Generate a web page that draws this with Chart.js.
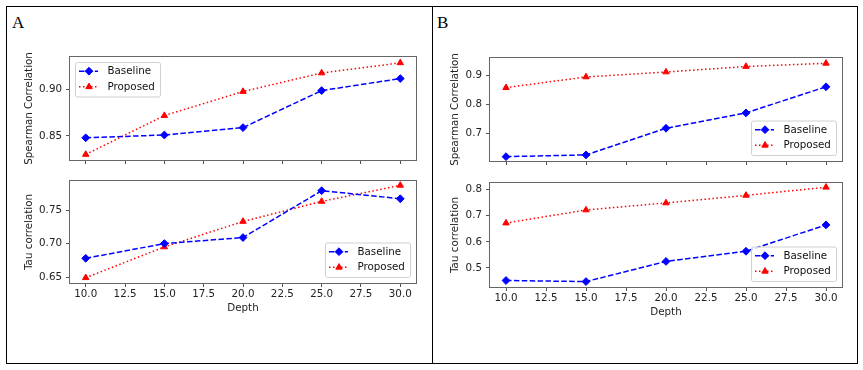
<!DOCTYPE html>
<html><head><meta charset="utf-8">
<script src="https://cdn.jsdelivr.net/npm/chart.js@4/dist/chart.umd.min.js"></script>
<style>
html,body{margin:0;padding:0;background:#fff;width:863px;height:370px;overflow:hidden;position:relative}
.box{position:absolute;border:1px solid #000;box-sizing:border-box}
.lbl{position:absolute;font-family:"Liberation Serif","Times New Roman",serif;font-size:17px;line-height:17px;color:#000}
canvas{position:absolute}
</style></head><body>
<div class="box" style="left:6px;top:6px;width:852px;height:358px"></div>
<div style="position:absolute;left:432px;top:6px;width:1px;height:358px;background:#000"></div>
<div class="lbl" style="left:12px;top:14px">A</div>
<div class="lbl" style="left:437px;top:14px">B</div>
<script>
// ---- data ----
const depth = [10, 15, 20, 25, 30];
const depthTicks = [10, 12.5, 15, 17.5, 20, 22.5, 25, 27.5, 30];
const seriesNames = ['Baseline', 'Proposed'];

const aSpearBaseline = [0.848, 0.851, 0.859, 0.899, 0.912];
const aSpearProposed = [0.830, 0.872, 0.898, 0.918, 0.929];
const aTauBaseline   = [0.678, 0.700, 0.709, 0.779, 0.767];
const aTauProposed   = [0.649, 0.695, 0.733, 0.763, 0.787];

const bSpearBaseline = [0.619, 0.625, 0.717, 0.770, 0.860];
const bSpearProposed = [0.857, 0.894, 0.911, 0.930, 0.941];
const bTauBaseline   = [0.452, 0.448, 0.525, 0.564, 0.665];
const bTauProposed   = [0.672, 0.722, 0.749, 0.778, 0.809];

const aSpearTicks = [0.85, 0.90];
const aTauTicks   = [0.65, 0.70, 0.75];
const bSpearTicks = [0.7, 0.8, 0.9];
const bTauTicks   = [0.5, 0.6, 0.7, 0.8];

// ---- styling ----
const FS = 10.3;
Chart.defaults.font.family = "'DejaVu Sans', sans-serif";
Chart.defaults.font.size = FS;
Chart.defaults.color = '#222';

const FONT = {family: "'DejaVu Sans', sans-serif", size: FS};

function drawMarker(ctx, style, r, x, y) {
  if (Chart.helpers && Chart.helpers.drawPoint) {
    Chart.helpers.drawPoint(ctx, {pointStyle: style, radius: r, borderWidth: 1, rotation: 0}, x, y);
    return;
  }
  ctx.beginPath();
  if (style === 'triangle') {
    ctx.moveTo(x, y - r); ctx.lineTo(x + r * 0.866, y + r / 2); ctx.lineTo(x - r * 0.866, y + r / 2);
  } else {
    ctx.moveTo(x - r, y); ctx.lineTo(x, y - r); ctx.lineTo(x + r, y); ctx.lineTo(x, y + r);
  }
  ctx.closePath(); ctx.fill(); ctx.stroke();
}

const mplPlugin = {
  id: 'mpl',
  afterDraw(chart, args, opts) {
    const ca = chart.chartArea, ctx = chart.ctx;
    ctx.save();
    // axes frame
    ctx.strokeStyle = '#666';
    ctx.lineWidth = 1;
    ctx.setLineDash([]);
    ctx.strokeRect(ca.left - 0.5, ca.top - 0.5, ca.right - ca.left + 1, ca.bottom - ca.top + 1);
    // legend
    const W = 85, H = 34.5, inset = 5.5;
    const x0 = opts.corner === 'ul' ? ca.left + inset : ca.right - inset - W;
    const y0 = opts.corner === 'ul' ? ca.top + inset : ca.bottom - inset - H;
    const rr = 2;
    ctx.beginPath();
    ctx.moveTo(x0 + rr, y0);
    ctx.lineTo(x0 + W - rr, y0); ctx.quadraticCurveTo(x0 + W, y0, x0 + W, y0 + rr);
    ctx.lineTo(x0 + W, y0 + H - rr); ctx.quadraticCurveTo(x0 + W, y0 + H, x0 + W - rr, y0 + H);
    ctx.lineTo(x0 + rr, y0 + H); ctx.quadraticCurveTo(x0, y0 + H, x0, y0 + H - rr);
    ctx.lineTo(x0, y0 + rr); ctx.quadraticCurveTo(x0, y0, x0 + rr, y0);
    ctx.closePath();
    ctx.fillStyle = 'rgba(255,255,255,0.8)';
    ctx.fill();
    ctx.strokeStyle = '#d0d0d0';
    ctx.stroke();
    chart.data.datasets.forEach((ds, i) => {
      const cy = y0 + 8.7 + i * 15.6;
      ctx.strokeStyle = ds.borderColor;
      ctx.fillStyle = ds.backgroundColor;
      ctx.lineWidth = ds.borderWidth;
      ctx.setLineDash(ds.borderDash);
      ctx.beginPath();
      ctx.moveTo(x0 + 3.5, cy); ctx.lineTo(x0 + 22.5, cy);
      ctx.stroke();
      ctx.setLineDash([]);
      ctx.lineWidth = 1;
      drawMarker(ctx, ds.pointStyle, ds.pointRadius, x0 + 13.5, cy);
      ctx.fillStyle = '#111';
      ctx.font = FS + "px 'DejaVu Sans', sans-serif";
      ctx.textBaseline = 'middle';
      ctx.textAlign = 'left';
      ctx.fillText(ds.label, x0 + 32, cy + 0.5);
    });
    ctx.restore();
  }
};

function makeDatasets(base, prop) {
  return [
    {label: seriesNames[0], data: depth.map((d, i) => ({x: d, y: base[i]})),
     borderColor: '#0000ff', backgroundColor: '#0000ff', borderWidth: 1.5, borderDash: [5.5, 2.4],
     pointStyle: 'rectRot', pointRadius: 3.9, pointBorderWidth: 1, pointHoverRadius: 3.9, tension: 0, fill: false},
    {label: seriesNames[1], data: depth.map((d, i) => ({x: d, y: prop[i]})),
     borderColor: '#ff0000', backgroundColor: '#ff0000', borderWidth: 1.5, borderDash: [1.5, 2.5],
     pointStyle: 'triangle', pointRadius: 3.7, pointBorderWidth: 1, pointHoverRadius: 3.7, tension: 0, fill: false}
  ];
}

function makeChart(cfg) {
  const YW = 60, TP = 8, RP = 8, XH = cfg.showX ? 40 : 12;
  const w = YW + (cfg.R - cfg.L) + RP, h = TP + (cfg.B - cfg.T) + XH;
  const c = document.createElement('canvas');
  c.width = w; c.height = h;
  c.style.left = (cfg.L - YW) + 'px';
  c.style.top = (cfg.T - TP) + 'px';
  c.style.width = w + 'px'; c.style.height = h + 'px';
  document.body.appendChild(c);
  const tickGrid = {drawOnChartArea: false, drawTicks: true, tickLength: 4, tickColor: '#555', tickWidth: 1, color: '#555'};
  new Chart(c, {
    type: 'line',
    data: {datasets: makeDatasets(cfg.base, cfg.prop)},
    options: {
      responsive: false, animation: false, devicePixelRatio: 1,
      layout: {padding: {left: 0, top: TP, right: RP, bottom: 0}},
      plugins: {legend: {display: false}, tooltip: {enabled: false}, mpl: {corner: cfg.corner}},
      scales: {
        x: {
          type: 'linear', min: 9, max: 31,
          afterBuildTicks: s => { s.ticks = depthTicks.map(v => ({value: v})); },
          afterFit: s => { s.height = XH; s.paddingLeft = 0; s.paddingRight = 0; },
          grid: tickGrid, border: {display: false},
          ticks: {display: cfg.showX, padding: 1, color: '#222', font: FONT, autoSkip: false, maxRotation: 0,
                  callback: v => Number(v).toFixed(1)},
          title: {display: cfg.showX, text: 'Depth', color: '#222', font: FONT, padding: {top: 0, bottom: 8}}
        },
        y: {
          type: 'linear', min: cfg.ymin, max: cfg.ymax,
          afterBuildTicks: s => { s.ticks = cfg.yTicks.map(v => ({value: v})); },
          afterFit: s => { s.width = YW; s.paddingTop = 0; s.paddingBottom = 0; },
          grid: tickGrid, border: {display: false},
          ticks: {padding: 4, color: '#222', font: FONT, callback: v => Number(v).toFixed(cfg.dec)},
          title: {display: true, text: cfg.ytitle, color: '#222', font: FONT, padding: {top: cfg.tpad, bottom: 0}}
        }
      }
    },
    plugins: [mplPlugin]
  });
}

makeChart({L: 70, R: 416, T: 57, B: 160, ymin: 0.824, ymax: 0.9353, yTicks: aSpearTicks, dec: 2,
  ytitle: 'Spearman Correlation', tpad: 13, showX: false, corner: 'ul', base: aSpearBaseline, prop: aSpearProposed});
makeChart({L: 70, R: 416, T: 181, B: 283, ymin: 0.6411, ymax: 0.7935, yTicks: aTauTicks, dec: 2,
  ytitle: 'Tau correlation', tpad: 13, showX: true, corner: 'lr', base: aTauBaseline, prop: aTauProposed});
makeChart({L: 490, R: 842, T: 58, B: 161, ymin: 0.604, ymax: 0.9593, yTicks: bSpearTicks, dec: 1,
  ytitle: 'Spearman Correlation', tpad: 19, showX: false, corner: 'lr', base: bSpearBaseline, prop: bSpearProposed});
makeChart({L: 490, R: 842, T: 183, B: 287, ymin: 0.4272, ymax: 0.8253, yTicks: bTauTicks, dec: 1,
  ytitle: 'Tau correlation', tpad: 19, showX: true, corner: 'lr', base: bTauBaseline, prop: bTauProposed});
</script>
</body></html>
